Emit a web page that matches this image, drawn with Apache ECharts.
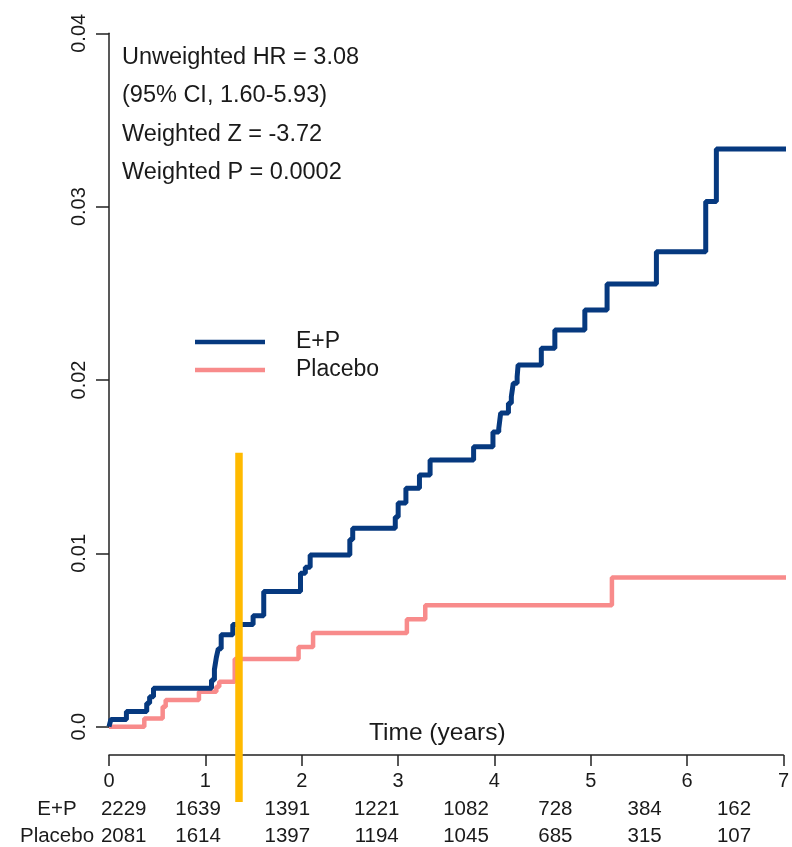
<!DOCTYPE html>
<html>
<head>
<meta charset="utf-8">
<script src="https://cdn.jsdelivr.net/npm/echarts@6/dist/echarts.min.js"></script>
<style>
  html, body { margin: 0; padding: 0; background: #fff; }
  #chart { width: 792px; height: 847px; }
</style>
</head>
<body>
<div id="chart"></div>
<script>
// Cumulative incidence steps: [time in years, cumulative hazard after the event]
const epSteps = [
  [0, 0], [0.02, 0.00042], [0.18, 0.00087], [0.39, 0.00135], [0.42, 0.00173], [0.46, 0.00222],
  [1.06, 0.0027], [1.09, 0.0033], [1.11, 0.0040], [1.13, 0.0045], [1.16, 0.0053],
  [1.28, 0.0059], [1.49, 0.0064], [1.60, 0.0078], [1.98, 0.00885], [2.03, 0.0092],
  [2.08, 0.0099], [2.49, 0.0108], [2.52, 0.01145], [2.96, 0.0121], [2.99, 0.0129],
  [3.07, 0.01375], [3.21, 0.01452], [3.32, 0.01539], [3.77, 0.01615], [3.97, 0.0170],
  [4.03, 0.0172], [4.05, 0.0181], [4.13, 0.01866], [4.16, 0.01904], [4.18, 0.01981],
  [4.22, 0.02019], [4.23, 0.02087], [4.47, 0.02183], [4.61, 0.02288], [4.92, 0.02404],
  [5.15, 0.02554], [5.66, 0.0274], [6.17, 0.03029], [6.28, 0.03333], [7.0, 0.03333]
];
const placeboSteps = [
  [0, 0], [0.365, 0.00048], [0.555, 0.00115], [0.586, 0.00154], [0.93, 0.00202],
  [1.11, 0.0023], [1.14, 0.0026], [1.30, 0.0039], [1.96, 0.0046], [2.11, 0.0054],
  [3.08, 0.0062], [3.27, 0.0070], [5.20, 0.0086], [7.0, 0.0086]
];

// Number at risk at each whole year
const riskYears = [0, 1, 2, 3, 4, 5, 6, 7];
const epAtRisk = [2229, 1639, 1391, 1221, 1082, 728, 384, 162];
const placeboAtRisk = [2081, 1614, 1397, 1194, 1045, 685, 315, 107];
const riskRows = ['Placebo', 'E+P'];

const statsLines = [
  'Unweighted HR = 3.08',
  '(95% CI, 1.60-5.93)',
  'Weighted Z = -3.72',
  'Weighted P = 0.0002'
];

// Highlight marker position
const markerTime = 1.344;
const markerTopValue = 0.0158;

const FONT = '"Liberation Sans", Arial, Helvetica, sans-serif';
const INK = '#1a1a1a';
const BLUE = '#06397f';
const PINK = '#f88b8b';

const chart = echarts.init(document.getElementById('chart'), null, { renderer: 'canvas' });

function riskData(values, row) {
  return values.map((v, i) => {
    const item = { value: [riskYears[i], row], label: { formatter: String(v) } };
    if (i === 0) item.label.offset = [15, 0];
    return item;
  });
}

const statsText = {
  type: 'text', left: 122, top: 38,
  style: { text: statsLines.join('\n'), fontSize: 23.5, lineHeight: 38.5, fill: INK, fontFamily: FONT }
};
const axisTitle = {
  type: 'text', left: 369, top: 721,
  style: { text: 'Time (years)', fontSize: 24.5, fill: INK, fontFamily: FONT }
};

const riskLabel = { show: true, position: 'inside', fontSize: 20.5, color: INK, fontFamily: FONT };

const option = {
  backgroundColor: '#fff',
  animation: false,
  textStyle: { fontFamily: FONT },
  grid: [
    { left: 109, right: 6, top: 33.3, bottom: 120.3 },
    { left: 109, right: 6, top: 754, height: 1 },
    { left: 108.7, right: 58, top: 809.5, bottom: 10.5 }
  ],
  xAxis: [
    { gridIndex: 0, type: 'value', min: 0, max: 7, show: false },
    {
      gridIndex: 1, type: 'value', min: 0, max: 7, interval: 1, position: 'bottom',
      axisLine: { show: true, lineStyle: { color: '#222', width: 1.5 } },
      axisTick: { show: true, length: 11, lineStyle: { color: '#222', width: 1.5 } },
      axisLabel: { fontSize: 20, color: INK, margin: 16, fontFamily: FONT, showMinLabel: true, showMaxLabel: true },
      splitLine: { show: false }
    },
    { gridIndex: 2, type: 'value', min: 0, max: 7, show: false }
  ],
  yAxis: [
    {
      gridIndex: 0, type: 'value', min: 0, max: 0.04, interval: 0.01, offset: 2,
      axisLine: { show: true, lineStyle: { color: '#222', width: 1.5 } },
      axisTick: { show: true, length: 13, lineStyle: { color: '#222', width: 1.5 } },
      axisLabel: {
        rotate: 90, fontSize: 20, color: INK, margin: 18, fontFamily: FONT,
        formatter: v => (v === 0 ? '0.0' : v.toFixed(2))
      },
      splitLine: { show: false }
    },
    { gridIndex: 1, type: 'value', min: 0, max: 1, show: false },
    {
      gridIndex: 2, type: 'category', data: riskRows, boundaryGap: false,
      axisLine: { show: false }, axisTick: { show: false },
      axisLabel: {
        fontSize: 20.5, color: INK, margin: 51.7, align: 'center', fontFamily: FONT,
        interval: 0, showMinLabel: true, showMaxLabel: true, hideOverlap: false
      }
    }
  ],
  legend: {
    orient: 'vertical', left: 190, top: 325,
    icon: 'rect', itemWidth: 70, itemHeight: 4.5, itemGap: 4,
    textStyle: { fontSize: 23, color: INK, fontFamily: FONT, padding: [0, 0, 0, 26], lineHeight: 24 },
    data: ['E+P', 'Placebo']
  },
  series: [
    {
      name: 'Placebo', type: 'line', xAxisIndex: 0, yAxisIndex: 0, step: 'end',
      data: placeboSteps, showSymbol: false, symbol: 'none',
      lineStyle: { color: PINK, width: 4.5 }, itemStyle: { color: PINK }, z: 3
    },
    {
      name: 'E+P', type: 'line', xAxisIndex: 0, yAxisIndex: 0, step: 'end',
      data: epSteps, showSymbol: false, symbol: 'none',
      lineStyle: { color: BLUE, width: 5 }, itemStyle: { color: BLUE }, z: 4
    },
    {
      name: 'E+P at risk', type: 'scatter', xAxisIndex: 2, yAxisIndex: 2,
      symbolSize: 0, silent: true, itemStyle: { opacity: 1 },
      data: riskData(epAtRisk, 'E+P'), label: riskLabel
    },
    {
      name: 'Placebo at risk', type: 'scatter', xAxisIndex: 2, yAxisIndex: 2,
      symbolSize: 0, silent: true, itemStyle: { opacity: 1 },
      data: riskData(placeboAtRisk, 'Placebo'), label: riskLabel
    }
  ],
  graphic: [statsText, axisTitle]
};

chart.setOption(option);

// Vertical highlight marker, running from the curve region down into the risk table
const markerTop = chart.convertToPixel({ gridIndex: 0 }, [markerTime, markerTopValue]);
chart.setOption({
  graphic: [
    statsText,
    axisTitle,
    {
      type: 'line', z: 100,
      shape: { x1: markerTop[0], y1: markerTop[1], x2: markerTop[0], y2: 802 },
      style: { stroke: '#ffba00', lineWidth: 7.5, lineCap: 'butt' }
    }
  ]
});
</script>
</body>
</html>
